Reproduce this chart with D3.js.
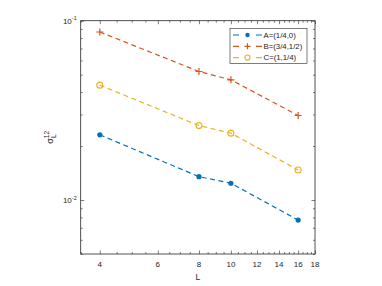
<!DOCTYPE html>
<html>
<head>
<meta charset="utf-8">
<script src="https://cdn.jsdelivr.net/npm/d3@7"></script>
<style>
  body { margin: 0; background: #fff; }
  text { font-family: "Liberation Sans", Arial, sans-serif; fill: #262626; }
</style>
</head>
<body>
<div id="chart"></div>
<script>
// data
var sizes = [4, 8, 10, 16];
var seriesNames = ["A=(1/4,0)", "B=(3/4,1/2)", "C=(1,1/4)"];
var valuesA = [0.0231, 0.0135, 0.0124, 0.00773];
var valuesB = [0.0865, 0.0521, 0.0468, 0.0296];
var valuesC = [0.0437, 0.0260, 0.0236, 0.0147];
var xTickLabels = [4, 6, 8, 10, 12, 14, 16, 18];
var yTickLabels = [0.01, 0.1];

var colors = ["#0072BD", "#D95319", "#EDB120"];
var markers = ["dot", "plus", "ring"];

var W = 382, H = 286;
var margin = {left: 80.7, right: 67, top: 20.7, bottom: 32};

var svg = d3.select("#chart").append("svg")
  .attr("width", W).attr("height", H);

var x = d3.scaleLog().domain([3.5, 18]).range([margin.left, W - margin.right]);
var y = d3.scaleLog().domain([0.005, 0.1]).range([H - margin.bottom, margin.top]);

var x0 = x.range()[0], x1 = x.range()[1], y0 = y.range()[0], y1 = y.range()[1];

// minor ticks
var xMinor = d3.range(3.5, 18.01, 0.5).filter(function(v) { return xTickLabels.indexOf(v) < 0; });
var yMinor = [];
[0.001, 0.01].forEach(function(d) {
  for (var k = 2; k <= 9; k++) {
    var v = +(d * k).toPrecision(3);
    if (v >= 0.005 && v < 0.1) yMinor.push(v);
  }
});

var axisG = svg.append("g").attr("class", "axes");

function drawAxis(gen, tx, ty) {
  var g = axisG.append("g").attr("transform", "translate(" + tx + "," + ty + ")").call(gen);
  g.select(".domain").remove();
  g.selectAll("line").attr("stroke", "#262626").attr("stroke-width", 0.6);
  g.selectAll("text").remove();
  return g;
}

// major + minor ticks on all four sides, pointing inward
drawAxis(d3.axisBottom(x).tickValues(xTickLabels).tickSize(-3.5), 0, y0);
drawAxis(d3.axisBottom(x).tickValues(xMinor).tickSize(-2), 0, y0);
drawAxis(d3.axisTop(x).tickValues(xTickLabels).tickSize(-3.5), 0, y1);
drawAxis(d3.axisTop(x).tickValues(xMinor).tickSize(-2), 0, y1);
drawAxis(d3.axisLeft(y).tickValues(yTickLabels).tickSize(-3.5), x0, 0);
drawAxis(d3.axisLeft(y).tickValues(yMinor).tickSize(-2), x0, 0);
drawAxis(d3.axisRight(y).tickValues(yTickLabels).tickSize(-3.5), x1, 0);
drawAxis(d3.axisRight(y).tickValues(yMinor).tickSize(-2), x1, 0);

axisG.append("rect")
  .attr("x", x0).attr("y", y1)
  .attr("width", x1 - x0).attr("height", y0 - y1)
  .attr("fill", "none").attr("stroke", "#262626").attr("stroke-width", 0.8);

// x tick labels
axisG.selectAll(".xlab").data(xTickLabels).enter().append("text")
  .attr("class", "xlab")
  .attr("x", function(d) { return x(d); })
  .attr("y", y0 + 13)
  .attr("text-anchor", "middle")
  .style("font-size", "8px")
  .text(function(d) { return d; });

// y tick labels 10^n
var yl = axisG.selectAll(".ylab").data(yTickLabels).enter().append("text")
  .attr("class", "ylab")
  .attr("x", x0 - 4)
  .attr("y", function(d) { return y(d) + 3; })
  .attr("text-anchor", "end")
  .style("font-size", "8px");
yl.append("tspan").text("10");
yl.append("tspan").attr("dy", -3.5).style("font-size", "5.5px")
  .text(function(d) { return "-" + Math.round(-Math.log10(d)); });

// axis titles
svg.append("text")
  .attr("x", (x0 + x1) / 2).attr("y", y0 + 26)
  .attr("text-anchor", "middle")
  .style("font-size", "8.5px")
  .text("L");

var yt = svg.append("text")
  .attr("transform", "translate(53," + ((y0 + y1) / 2) + ") rotate(-90)")
  .attr("text-anchor", "middle")
  .style("font-size", "9px");
yt.append("tspan").text("σ");
yt.append("tspan").attr("dy", -4).style("font-size", "6.5px").text("12");
yt.append("tspan").attr("dx", -7).attr("dy", 7).style("font-size", "6.5px").text("L");

// series
var allValues = [valuesA, valuesB, valuesC];
var line = d3.line()
  .x(function(d) { return x(d.L); })
  .y(function(d) { return y(d.v); });

function drawMarker(g, type, color, s) {
  s = s || 1;
  if (type === "dot") {
    g.append("circle").attr("r", 2.6 * s).attr("fill", color);
  } else if (type === "ring") {
    g.append("circle").attr("r", 3 * s).attr("fill", "none")
      .attr("stroke", color).attr("stroke-width", 1.1);
  } else {
    var a = 3.5 * s;
    g.append("path").attr("d", "M" + (-a) + ",0H" + a + "M0," + (-a) + "V" + a)
      .attr("stroke", color).attr("stroke-width", 1.2);
  }
}

allValues.forEach(function(vals, i) {
  var pts = sizes.map(function(L, j) { return {L: L, v: vals[j]}; });
  var g = svg.append("g").attr("class", "series");
  g.append("path").datum(pts)
    .attr("d", line)
    .attr("fill", "none")
    .attr("stroke", colors[i])
    .attr("stroke-width", 1.2)
    .attr("stroke-dasharray", "5,3.5");
  pts.forEach(function(p) {
    var m = g.append("g").attr("transform", "translate(" + x(p.L) + "," + y(p.v) + ")");
    drawMarker(m, markers[i], colors[i]);
  });
});

// legend
var lg = svg.append("g").attr("class", "legend");
lg.append("rect")
  .attr("x", 230).attr("y", 28.3).attr("width", 77).attr("height", 35)
  .attr("fill", "#fff").attr("stroke", "#262626").attr("stroke-width", 0.6);
seriesNames.forEach(function(name, i) {
  var ry = 35 + i * 11.3;
  lg.append("line")
    .attr("x1", 233).attr("x2", 262).attr("y1", ry).attr("y2", ry)
    .attr("stroke", colors[i]).attr("stroke-width", 1.2)
    .attr("stroke-dasharray", "6,17");
  var m = lg.append("g").attr("transform", "translate(247.5," + ry + ")");
  drawMarker(m, markers[i], colors[i], 0.85);
  lg.append("text")
    .attr("x", 263.5).attr("y", ry + 2.8)
    .style("font-size", "7.8px")
    .text(name);
});
</script>
</body>
</html>
